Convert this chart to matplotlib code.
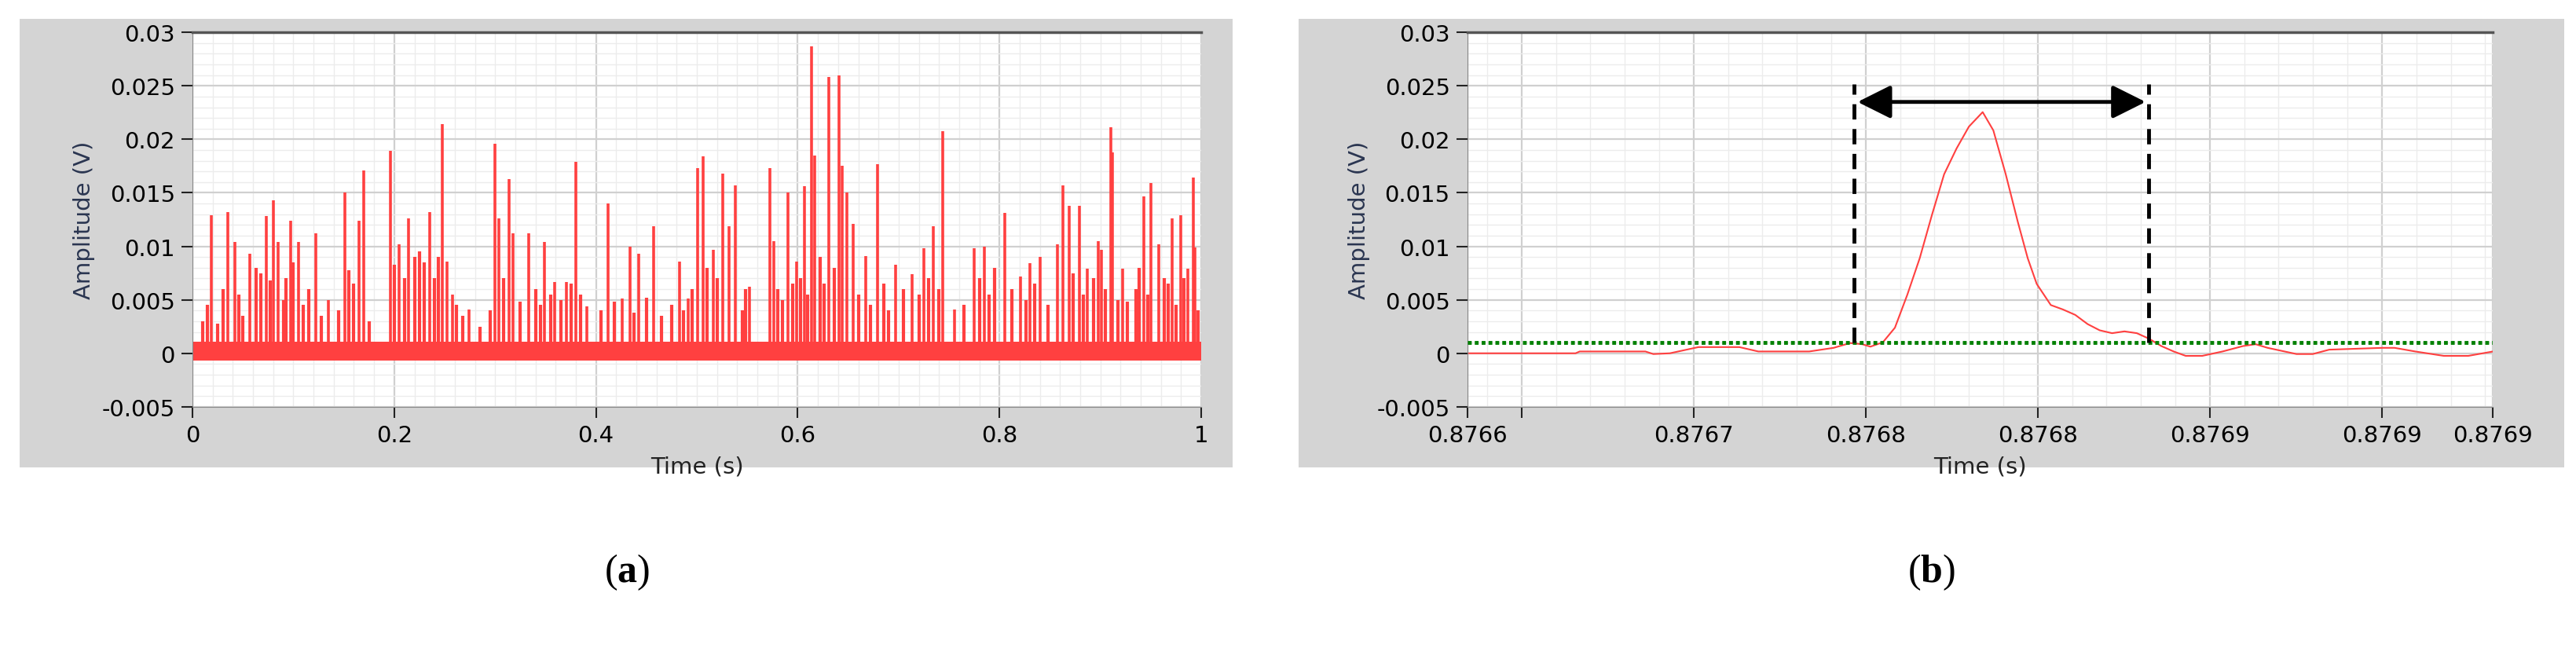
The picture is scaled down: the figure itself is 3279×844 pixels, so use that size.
import matplotlib
matplotlib.use("Agg")
import matplotlib.pyplot as plt
from matplotlib.ticker import MultipleLocator

plt.rcParams["mathtext.fontset"] = "custom"
plt.rcParams["mathtext.bf"] = "Liberation Serif:bold"
plt.rcParams["mathtext.rm"] = "Liberation Serif"

# ---------- data panel (a) ----------
spike_t = [0.019,0.035,0.042,0.057,0.073,0.080,0.085,0.097,0.105,0.122,0.135,0.151,0.165,0.170,
           0.196,0.205,0.214,0.235,0.248,0.252,0.258,0.274,0.300,0.304,0.314,0.318,0.333,0.349,
           0.359,0.371,0.380,0.391,0.412,0.426,0.434,0.442,0.457,0.483,0.491,0.501,0.506,0.516,
           0.526,0.532,0.538,0.552,0.572,0.576,0.590,0.599,0.607,0.614,0.617,0.631,0.641,0.644,
           0.649,0.655,0.667,0.679,0.697,0.713,0.725,0.734,0.744,0.755,0.775,0.785,0.805,0.821,
           0.830,0.840,0.857,0.863,0.869,0.879,0.887,0.898,0.901,0.910,0.912,0.922,0.943,0.950,
           0.958,0.971,0.980,0.987,0.992,0.994]
spike_v = [0.0129,0.0132,0.0104,0.0093,0.0128,0.0143,0.0104,0.0124,0.0104,0.0112,0.0050,0.0150,0.0124,0.0171,
           0.0189,0.0102,0.0126,0.0132,0.0214,0.0086,0.0055,0.0041,0.0196,0.0126,0.0163,0.0112,0.0112,0.0104,
           0.0067,0.0067,0.0179,0.0044,0.0140,0.0051,0.0100,0.0093,0.0119,0.0086,0.0051,0.0173,0.0184,0.0097,
           0.0168,0.0119,0.0157,0.0062,0.0173,0.0105,0.0150,0.0086,0.0156,0.0287,0.0185,0.0258,0.0260,0.0175,
           0.0150,0.0121,0.0091,0.0177,0.0083,0.0074,0.0098,0.0119,0.0208,0.0041,0.0098,0.0100,0.0131,0.0072,
           0.0084,0.0090,0.0102,0.0157,0.0138,0.0138,0.0079,0.0105,0.0097,0.0211,0.0188,0.0079,0.0147,0.0159,
           0.0102,0.0126,0.0129,0.0079,0.0164,0.0099]
small_t = [0.010,0.015,0.025,0.030,0.046,0.050,0.063,0.068,0.077,0.090,0.093,0.100,0.110,0.115,0.128,
           0.145,0.155,0.160,0.175,0.200,0.210,0.220,0.225,0.230,0.240,0.244,0.262,0.268,0.285,0.295,
           0.308,0.325,0.340,0.345,0.355,0.365,0.375,0.385,0.405,0.418,0.438,0.450,0.465,0.475,0.487,
           0.495,0.510,0.520,0.545,0.548,0.580,0.585,0.595,0.603,0.610,0.622,0.626,0.636,0.660,0.672,
           0.685,0.690,0.705,0.720,0.730,0.740,0.765,0.780,0.790,0.795,0.812,0.826,0.835,0.848,0.873,
           0.883,0.893,0.905,0.917,0.927,0.935,0.938,0.947,0.963,0.967,0.975,0.983,0.997]
small_v = [0.0030,0.0045,0.0028,0.0060,0.0055,0.0035,0.0080,0.0075,0.0068,0.0050,0.0070,0.0085,0.0045,0.0060,0.0035,
           0.0040,0.0078,0.0065,0.0030,0.0083,0.0070,0.0090,0.0095,0.0085,0.0070,0.0090,0.0045,0.0035,0.0025,0.0040,
           0.0070,0.0048,0.0060,0.0045,0.0055,0.0050,0.0065,0.0055,0.0040,0.0048,0.0038,0.0052,0.0035,0.0045,0.0040,
           0.0060,0.0080,0.0070,0.0040,0.0060,0.0060,0.0050,0.0065,0.0070,0.0055,0.0090,0.0065,0.0080,0.0055,0.0045,
           0.0065,0.0040,0.0060,0.0055,0.0070,0.0060,0.0045,0.0070,0.0055,0.0080,0.0060,0.0050,0.0065,0.0045,0.0075,
           0.0055,0.0070,0.0060,0.0050,0.0048,0.0060,0.0080,0.0055,0.0070,0.0065,0.0045,0.0070,0.0040]
noise_low, noise_high = -0.0007, 0.0011
threshold = 0.001

# ---------- data panel (b) ----------
zoom_t = [0.8766343,0.8766657,0.8766669,0.8766860,0.8766883,0.8766931,0.8767014,0.8767133,0.8767188,0.8767336,
          0.8767407,0.8767455,0.8767490,0.8767514,0.8767550,0.8767585,0.8767621,0.8767657,0.8767693,0.8767728,
          0.8767764,0.8767800,0.8767840,0.8767871,0.8767907,0.8767942,0.8767971,0.8767997,0.8768038,0.8768073,
          0.8768109,0.8768145,0.8768180,0.8768216,0.8768252,0.8768288,0.8768323,0.8768359,0.8768395,0.8768430,
          0.8768478,0.8768537,0.8768597,0.8768633,0.8768668,0.8768752,0.8768799,0.8768847,0.8769002,0.8769037,
          0.8769097,0.8769180,0.8769251,0.8769323]
zoom_v = [0.0,0.0,0.00017,0.00017,-0.00007,0.0,0.00058,0.00058,0.00017,0.00017,
          0.00051,0.00096,0.00085,0.00062,0.00103,0.00239,0.00547,0.00888,0.01298,0.01674,
          0.01914,0.02119,0.02255,0.02084,0.01674,0.01230,0.00888,0.00649,0.00451,0.00410,
          0.00359,0.00273,0.00215,0.00188,0.00205,0.00188,0.00137,0.00068,0.00017,-0.00024,
          -0.00024,0.00017,0.00068,0.00085,0.00051,-0.00007,-0.00007,0.00034,0.00051,0.00051,
          0.00017,-0.00024,-0.00024,0.00017]
pulse_start, pulse_end = 0.8767467, 0.8768323
arrow_y = 0.0235
b_xlim = (0.8766343, 0.8769323)
b_ticks = [0.8766343, 0.87665, 0.87670, 0.87675, 0.87680, 0.87685, 0.87690, 0.8769323]
b_ticklabels = ["0.8766", "", "0.8767", "0.8768", "0.8768", "0.8769", "0.8769", "0.8769"]
y_ticks = [-0.005, 0, 0.005, 0.01, 0.015, 0.02, 0.025, 0.03]
y_ticklabels = ["-0.005", "0", "0.005", "0.01", "0.015", "0.02", "0.025", "0.03"]

RED = "#ff4040"
GRAY_BG = "#d4d4d4"

fig = plt.figure(figsize=(32.8, 8.45), dpi=100)
fig.patch.set_facecolor("white")

for x0, w in [(0.0076, 0.4707), (0.504, 0.491)]:
    fig.add_artist(plt.Rectangle((x0, 0.2947), w, 0.6757, transform=fig.transFigure,
                                 facecolor=GRAY_BG, edgecolor="none", zorder=-5))

def style(ax):
    ax.set_zorder(2)
    ax.set_facecolor("white")
    ax.set_ylim(-0.005, 0.03)
    ax.set_yticks(y_ticks)
    ax.set_yticklabels(y_ticklabels)
    ax.yaxis.set_minor_locator(MultipleLocator(0.001))
    ax.grid(which="major", color="#d0d0d0", lw=1.6)
    ax.grid(which="minor", color="#ececec", lw=1.0)
    ax.set_axisbelow(True)
    ax.spines["right"].set_visible(False)
    ax.spines["top"].set_color("#555555"); ax.spines["top"].set_linewidth(2.5)
    ax.spines["left"].set_color("#888888"); ax.spines["bottom"].set_color("#888888")
    ax.tick_params(axis="both", which="major", direction="out", length=10, width=1.5,
                   labelsize=21, color="#222222", pad=6)
    ax.tick_params(axis="both", which="minor", length=0)
    ax.set_ylabel("Amplitude (V)", fontsize=21, color="#2a3550", labelpad=6)
    ax.set_xlabel("Time (s)", fontsize=21, color="#222222", labelpad=8)

# ---- panel a ----
ax1 = fig.add_axes([0.0747, 0.386, 0.3915, 0.564])
style(ax1)
ax1.set_xlim(0, 1)
ax1.set_xticks([0, 0.2, 0.4, 0.6, 0.8, 1])
ax1.set_xticklabels(["0", "0.2", "0.4", "0.6", "0.8", "1"])
ax1.xaxis.set_minor_locator(MultipleLocator(0.02))
ax1.axhline(threshold, color="#008000", lw=2, ls=(0, (1, 1)), zorder=1)
ax1.fill_between([0, 1], noise_low, noise_high, color=RED, lw=0, zorder=2)
ax1.vlines(small_t, 0, small_v, color=RED, lw=3, zorder=2)
ax1.vlines(spike_t, 0, spike_v, color=RED, lw=2.6, zorder=2)

# ---- panel b ----
ax2 = fig.add_axes([0.5695, 0.386, 0.398, 0.564])
style(ax2)
ax2.set_xlim(*b_xlim)
ax2.set_xticks(b_ticks)
ax2.set_xticklabels(b_ticklabels)
ax2.xaxis.set_minor_locator(MultipleLocator(0.00001))
ax2.axhline(threshold, color="#008000", lw=3.5, ls=(0, (1, 0.8)), zorder=3)
ax2.plot(zoom_t, zoom_v, color=RED, lw=1.5, zorder=2)
for xv in (pulse_start, pulse_end):
    ax2.plot([xv, xv], [threshold, 0.0252], color="black", lw=3.5, ls=(0, (4, 2.5)), zorder=4)
ax2.annotate("", xy=(pulse_start, arrow_y), xytext=(pulse_end, arrow_y),
             arrowprops=dict(arrowstyle="<|-|>,head_length=2.6,head_width=1.3", color="black", lw=3.5,
                             shrinkA=3, shrinkB=3), zorder=5)

fig.text(0.2433, 0.138, r"$(\mathbf{a})$", fontsize=36, ha="center", va="center")
fig.text(0.7495, 0.138, r"$(\mathbf{b})$", fontsize=36, ha="center", va="center")

fig.savefig("out.png", dpi=100)
